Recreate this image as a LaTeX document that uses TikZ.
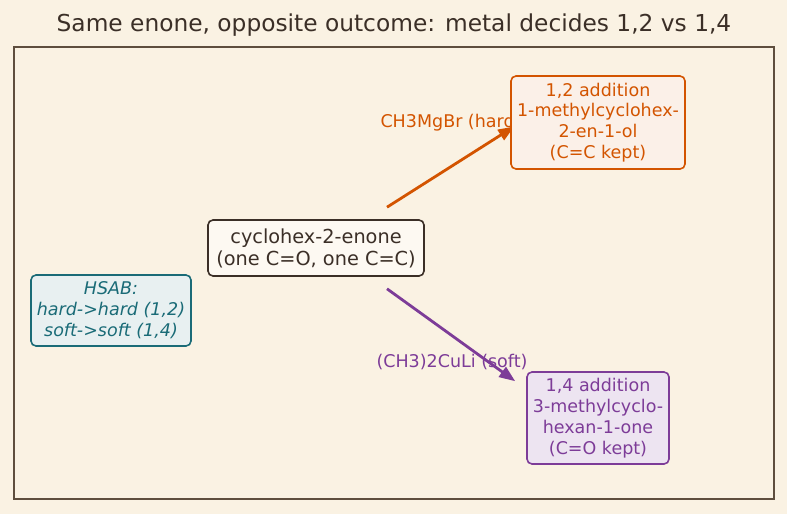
\documentclass[tikz,border=0pt]{standalone}
\usepackage{fontspec}
\setmainfont{DejaVu Sans}
\usetikzlibrary{arrows.meta,positioning,calc,backgrounds}
\definecolor{PaperBg}{HTML}{FAF2E3}
\definecolor{InkDark}{HTML}{3B2F27}
\definecolor{FrameBrown}{HTML}{5E4E3E}
\definecolor{HardOrange}{HTML}{D35400}
\definecolor{SoftPurple}{HTML}{7D3C98}
\definecolor{NoteTeal}{HTML}{1A6B77}

\begin{document}
\begin{tikzpicture}[x=1pt,y=-1pt,
  box/.style={draw,rounded corners=5pt,align=center,line width=1.6pt,inner sep=2pt,
              font=\fontsize{17.5}{20.8}\selectfont},
  arr/.style={-{Triangle[length=16pt,width=12pt]},line width=2.8pt},
  reagent/.style={font=\fontsize{17.5}{20.8}\selectfont,inner sep=0pt}
]
\useasboundingbox (0,0) rectangle (787,514);
\node[font=\fontsize{23.3}{28}\selectfont,text=InkDark] (title) at (394,25)
  {Same enone, opposite outcome: metal decides 1,2 vs 1,4};
\node[box,draw=InkDark,fill=white!55!PaperBg,text=InkDark,minimum width=216pt,minimum height=56pt,
      font=\fontsize{19.3}{22}\selectfont] (enone) at (316,248)
  {cyclohex-2-enone\\(one C=O, one C=C)};
\node[box,draw=HardOrange,fill=HardOrange!9!white,text=HardOrange,minimum width=174pt,
      minimum height=93pt] (add12) at (598,122.5)
  {1,2 addition\\1-methylcyclohex-\\2-en-1-ol\\(C=C kept)};
\node[box,draw=SoftPurple,fill=SoftPurple!14!white,text=SoftPurple,minimum width=142pt,
      minimum height=92pt] (add14) at (598,418)
  {1,4 addition\\3-methylcyclo-\\hexan-1-one\\(C=O kept)};
\node[box,draw=NoteTeal,fill=NoteTeal!10!white,text=NoteTeal,minimum width=160pt,
      minimum height=71pt,font=\fontsize{17.5}{21}\selectfont\itshape] (hsab) at (111,310.5)
  {HSAB:\\hard->hard (1,2)\\soft->soft (1,4)};
\begin{scope}[on background layer]
  \fill[PaperBg] (0,0) rectangle (787,514);
  \draw[FrameBrown,line width=1.5pt] (14,47) rectangle (774,499);
  % reagent labels sit under the arrows and boxes
  \node[reagent,text=HardOrange] (hard) at (451,123) {CH3MgBr (hard)};
  \node[reagent,text=SoftPurple] (soft) at (452,362) {(CH3)2CuLi (soft)};
  \draw[arr,HardOrange] ($(enone.north)+(71,-12)$) -- ($(add12.west)+(4,4)$);
  \draw[arr,SoftPurple] ($(enone.south)+(71,12)$) -- ($(add14.north west)+(-11,10)$);
\end{scope}
\end{tikzpicture}
\end{document}
